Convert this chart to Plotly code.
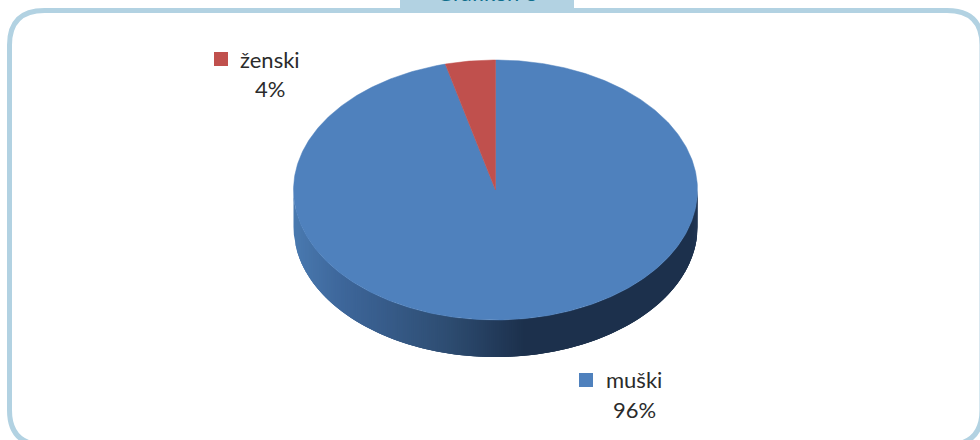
import numpy as np
import plotly.graph_objects as go

categories = ["muški", "ženski"]
values = [96, 4]
labels = ["96%", "4%"]
title_text = "Grafikon 6"

W, H = 980, 440
CX, CY, RX, RY, DEPTH = 495.5, 190.0, 202.0, 130.0, 37.0
COLORS = {"muški": "#4F81BD", "ženski": "#C0504D"}
FRAME = "#B2D2E2"
TEXT = "#2b2b2b"
FONT = "Lato, Carlito, Calibri, sans-serif"

fig = go.Figure()

# side wall: overlapping strips painted left to right with a horizontal gradient
stops_x = [293, 340, 447, 525, 690, 698]
stops_rgb = np.array([[74, 122, 176], [62, 103, 155], [46, 77, 114],
                      [28, 48, 76], [28, 48, 76], [34, 56, 86]], float)


def col(x):
    c = [np.interp(x, stops_x, stops_rgb[:, i]) for i in range(3)]
    return "rgb(%d,%d,%d)" % tuple(c)


edges = np.arccos(np.linspace(-1, 1, 203))
for i in range(len(edges) - 1):
    a = edges[i]
    b = edges[min(i + 3, len(edges) - 1)]
    t = np.linspace(a, b, 5)
    x = CX + RX * np.cos(t)
    y = CY + RY * np.sin(t)
    xs = np.r_[x, x[::-1], x[0]]
    ys = np.r_[y, y[::-1] + DEPTH, y[0]]
    c = col(x[0])
    fig.add_trace(go.Scatter(x=xs, y=ys, mode="lines", fill="toself", fillcolor=c,
                             line=dict(width=0), hoverinfo="skip", showlegend=False))

# top face: slices clockwise from 12 o'clock
start = 0.0
total = sum(values)
for cat, val in zip(categories, values):
    end = start + val / total * 2 * np.pi
    t = np.linspace(start, end, max(int(val * 6), 24))
    xs = np.r_[CX, CX + RX * np.sin(t), CX]
    ys = np.r_[CY, CY - RY * np.cos(t), CY]
    fig.add_trace(go.Scatter(x=xs, y=ys, mode="lines", fill="toself", fillcolor=COLORS[cat],
                             line=dict(color=COLORS[cat], width=0.5), name=cat,
                             hoverinfo="name", showlegend=False))
    start = end

# legend-style data labels
place = {"muški": (634, 379, 586, 380, 634, 409), "ženski": (270, 59, 221, 59, 270, 88)}
for cat, lab in zip(categories, labels):
    tx, ty, mx, my, lx, ly = place[cat]
    fig.add_trace(go.Scatter(x=[mx], y=[my], mode="markers", hoverinfo="skip", showlegend=False,
                             marker=dict(symbol="square", size=14, color=COLORS[cat])))
    fig.add_annotation(x=tx, y=ty, text=cat, showarrow=False,
                       font=dict(family=FONT, size=22, color=TEXT))
    fig.add_annotation(x=lx, y=ly, text=lab, showarrow=False,
                       font=dict(family=FONT, size=22, color=TEXT))

# title partly clipped by the top of the page, as in the source
fig.add_annotation(xref="paper", yref="paper", x=487.5 / W, y=1 + 8 / H, yanchor="middle",
                   text=title_text, showarrow=False,
                   font=dict(family=FONT, size=22, color="#0F6E8C"))

fig.update_layout(
    width=W, height=H, margin=dict(l=0, r=0, t=0, b=0), autosize=False,
    paper_bgcolor="white", plot_bgcolor="white",
    xaxis=dict(range=[0, W], visible=False, fixedrange=True),
    yaxis=dict(range=[H, 0], visible=False, fixedrange=True),
    shapes=[
        dict(type="path", layer="below",
             path="M 9.5 45 Q 9.5 10.5 44.5 10.5 L 947 10.5 Q 982 10.5 982 45 L 982 410 Q 982 445 947 445 "
                  "L 44.5 445 Q 9.5 445 9.5 410 Z",
             line=dict(color=FRAME, width=5), fillcolor="white"),
        dict(type="rect", layer="below", x0=400, x1=574, y0=-2, y1=11,
             line=dict(width=0), fillcolor=FRAME),
    ],
)
fig.write_html("out.html", config={"displayModeBar": False},
               post_script="document.body.style.margin='0';document.body.style.overflow='hidden';")
